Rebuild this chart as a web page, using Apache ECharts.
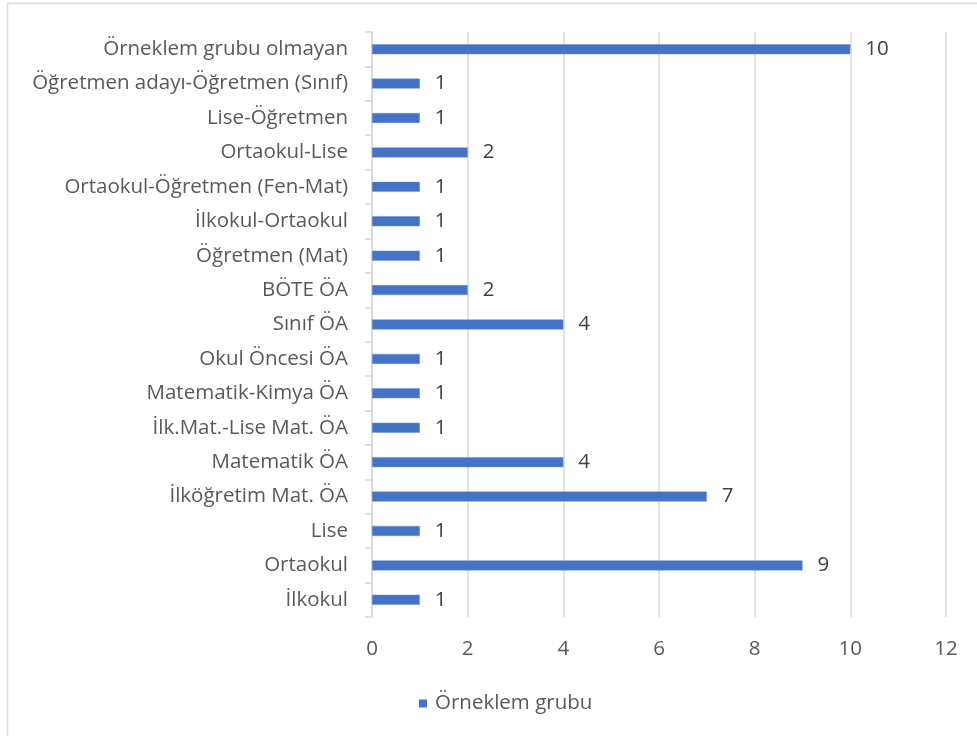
<!DOCTYPE html>
<html>
<head>
<meta charset="utf-8">
<script src="https://cdn.jsdelivr.net/npm/echarts@6/dist/echarts.min.js"></script>
<style>
  html, body { margin: 0; padding: 0; background: #fff; }
  #chart { width: 977px; height: 736px; }
</style>
</head>
<body>
<div id="chart"></div>
<script>
// Categories listed bottom to top, as the category axis draws them
const categories = [
  'İlkokul',
  'Ortaokul',
  'Lise',
  'İlköğretim Mat. ÖA',
  'Matematik ÖA',
  'İlk.Mat.-Lise Mat. ÖA',
  'Matematik-Kimya ÖA',
  'Okul Öncesi ÖA',
  'Sınıf ÖA',
  'BÖTE ÖA',
  'Öğretmen (Mat)',
  'İlkokul-Ortaokul',
  'Ortaokul-Öğretmen (Fen-Mat)',
  'Ortaokul-Lise',
  'Lise-Öğretmen',
  'Öğretmen adayı-Öğretmen (Sınıf)',
  'Örneklem grubu olmayan'
];
const counts = [1, 9, 1, 7, 4, 1, 1, 1, 4, 2, 1, 1, 1, 2, 1, 1, 10];
const seriesName = 'Örneklem grubu';
const xMin = 0, xMax = 12, xStep = 2;

const FONT = '"Open Sans", "Noto Sans", sans-serif';
const SIZE = 20.5;
const chart = echarts.init(document.getElementById('chart'));
chart.setOption({
  animation: false,
  backgroundColor: '#ffffff',
  graphic: [{
    type: 'rect',
    shape: { x: 7.5, y: 3.5, width: 1000, height: 1000 },
    style: { fill: 'none', stroke: '#d9d9d9', lineWidth: 1.5 },
    silent: true
  }],
  grid: { left: 372, right: 31, top: 32, bottom: 119, containLabel: false },
  legend: {
    bottom: 17,
    left: 414,
    itemWidth: 8,
    itemHeight: 8,
    itemGap: 8,
    icon: 'rect',
    itemStyle: { borderWidth: 0 },
    textStyle: { fontFamily: FONT, fontSize: SIZE, color: '#595959', padding: [0, 0, 0, 3] },
    data: [seriesName]
  },
  xAxis: {
    type: 'value',
    min: xMin,
    max: xMax,
    interval: xStep,
    axisLine: { show: false },
    axisTick: { show: false },
    axisLabel: { fontFamily: FONT, fontSize: SIZE, color: '#595959', margin: 22 },
    splitLine: { lineStyle: { color: '#d9d9d9', width: 1.5 } }
  },
  yAxis: {
    type: 'category',
    data: categories,
    axisLine: { lineStyle: { color: '#d9d9d9', width: 1.5 } },
    axisTick: { show: true, length: 7, lineStyle: { color: '#d9d9d9', width: 1.5 } },
    axisLabel: { fontFamily: FONT, fontSize: SIZE, color: '#595959', margin: 24 }
  },
  series: [{
    name: seriesName,
    type: 'bar',
    data: counts,
    barWidth: 10,
    itemStyle: { color: '#4472c4', borderColor: '#6a8fd3', borderWidth: 0.5 },
    label: {
      show: true,
      position: 'right',
      distance: 15,
      fontFamily: FONT,
      fontSize: SIZE,
      color: '#404040'
    }
  }]
});
</script>
</body>
</html>
